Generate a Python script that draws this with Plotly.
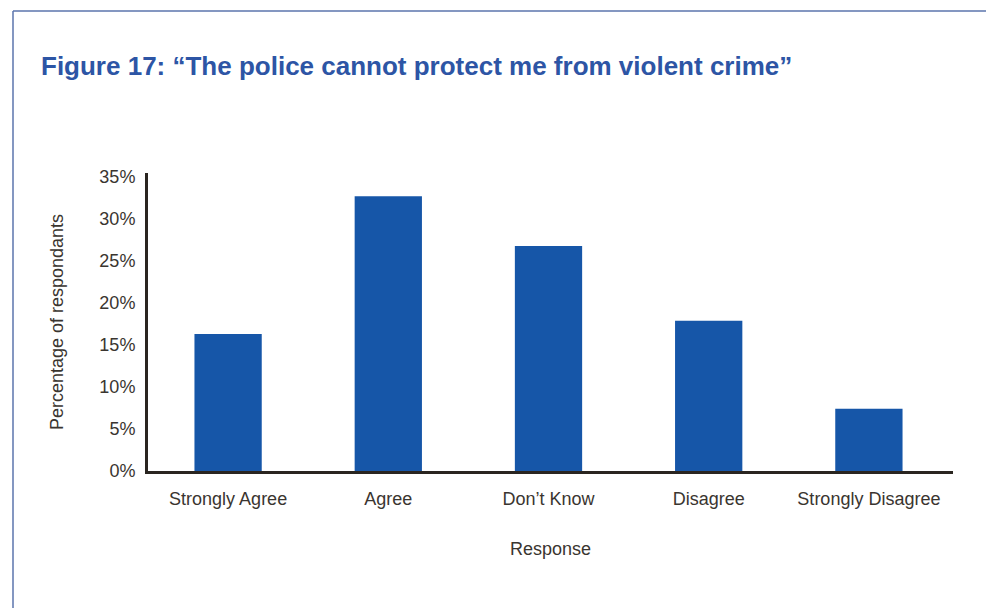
import plotly.graph_objects as go

categories = ["Strongly Agree", "Agree", "Don’t Know", "Disagree", "Strongly Disagree"]
values = [16.3, 32.7, 26.8, 17.9, 7.4]
tick_vals = [0, 5, 10, 15, 20, 25, 30, 35]
tick_text = ["0%", "5%", "10%", "15%", "20%", "25%", "30%", "35%"]

O = 8  # page body offset
W, H = 994 - O, 608 - O
L, R, T, B = 148 - O, 41, 173 - O, 137
pw, ph = W - L - R, H - T - B

def px(x):
    return (x - O - L) / pw

def py(y):
    return (H - B - (y - O)) / ph

font = "Liberation Sans, Arial, Helvetica, sans-serif"
txt = "#3a3530"

fig = go.Figure(go.Bar(
    x=categories, y=values, width=0.42,
    marker=dict(color="#1656a8", line=dict(width=0)),
))

fig.update_layout(
    width=W, height=H,
    margin=dict(l=L, r=R, t=T, b=B),
    paper_bgcolor="white", plot_bgcolor="white",
    showlegend=False,
    font=dict(family=font, color=txt, size=18),
    xaxis=dict(
        showline=True, linecolor="#2a2520", linewidth=3,
        ticks="", showgrid=False, zeroline=False,
        tickfont=dict(size=18, color=txt),
        ticklabelstandoff=9,
        title=dict(text="Response", font=dict(size=18, color=txt), standoff=35),
        range=[-0.5, 4.525],
    ),
    yaxis=dict(
        showline=True, linecolor="#2a2520", linewidth=3,
        ticks="", showgrid=False, zeroline=False,
        tickvals=tick_vals, ticktext=tick_text,
        tickfont=dict(size=18, color=txt),
        range=[0, 35.48],
        ticklabelstandoff=6,
        title=dict(text="Percentage of respondants", font=dict(size=18, color=txt), standoff=32),
    ),
    shapes=[
        dict(type="line", xref="paper", yref="paper", x0=px(13), x1=px(13), y0=py(11), y1=py(620),
             line=dict(color="#5b74ad", width=1.5)),
        dict(type="line", xref="paper", yref="paper", x0=px(13), x1=px(1000), y0=py(11), y1=py(11),
             line=dict(color="#5b74ad", width=1.5)),
    ],
    annotations=[
        dict(text="<b>Figure 17: “The police cannot protect me from violent crime”</b>",
             xref="paper", yref="paper", x=px(39), y=py(66), xanchor="left", yanchor="middle",
             showarrow=False, font=dict(family=font, size=26, color="#2d55a5")),
    ],
)

fig.write_html("out.html")
